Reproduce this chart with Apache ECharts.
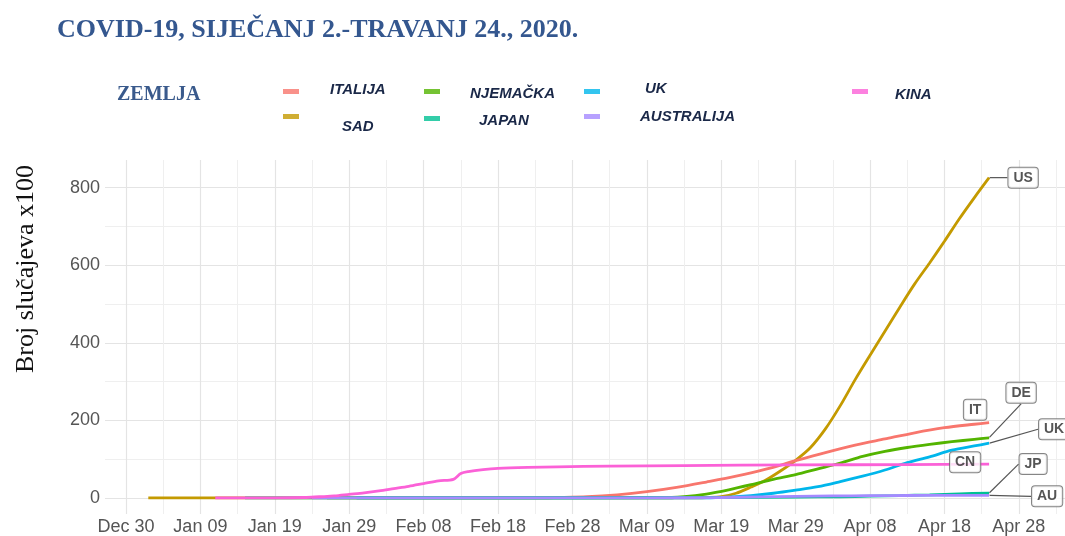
<!DOCTYPE html>
<html>
<head>
<meta charset="utf-8">
<script src="https://cdn.jsdelivr.net/npm/echarts@6/dist/echarts.min.js"></script>
<style>
html,body{margin:0;padding:0;background:#fff;}
#chart{width:1065px;height:536px;}
</style>
</head>
<body>
<div id="chart"></div>
<script>
// ---- data (days counted from 2019-12-30, values in thousands of cases) ----
const xTickDays = [0, 10, 20, 30, 40, 50, 60, 70, 80, 90, 100, 110, 120];
const xTickLabels = ['Dec 30', 'Jan 09', 'Jan 19', 'Jan 29', 'Feb 08', 'Feb 18', 'Feb 28', 'Mar 09', 'Mar 19', 'Mar 29', 'Apr 08', 'Apr 18', 'Apr 28'];
const xMinorDays = [5, 15, 25, 35, 45, 55, 65, 75, 85, 95, 105, 115, 125];
const yTicks = [0, 200, 400, 600, 800];
const yMinorTicks = [100, 300, 500, 700];

const usDays = [3, 10, 20, 40, 60, 76, 78, 80, 82, 84, 86, 88, 90, 92, 94, 96, 98, 100, 102, 104, 106, 108, 110, 112, 114, 116];
const usVals = [0, 0, 0, 0, 0, 0, 1, 3, 12, 28, 46, 70, 97, 130, 178, 238, 305, 368, 430, 492, 552, 606, 662, 720, 774, 826];

const itDays = [31, 50, 55, 58, 62, 66, 70, 74, 78, 82, 86, 90, 94, 98, 102, 106, 110, 114, 116];
const itVals = [0, 0, 0, 1, 3, 8, 16, 27, 41, 56, 74, 96, 117, 136, 152, 168, 181, 190, 194];

const deDays = [27, 50, 72, 75, 78, 81, 84, 87, 90, 93, 96, 99, 102, 105, 108, 111, 114, 116];
const deVals = [0, 0, 0, 3, 10, 21, 34, 48, 60, 75, 90, 107, 120, 130, 138, 145, 151, 155];

const ukDays = [31, 50, 78, 81, 84, 87, 90, 93, 96, 99, 102, 105, 108, 111, 114, 116];
const ukVals = [0, 0, 0, 2, 6, 12, 20, 29, 42, 56, 72, 91, 106, 123, 134, 141];

const jpDays = [16, 50, 70, 80, 90, 96, 100, 104, 108, 112, 116];
const jpVals = [0, 0.2, 0.5, 1, 2, 3, 4.5, 6, 8, 10.5, 12.5];

const auDays = [25, 50, 70, 80, 85, 90, 95, 100, 105, 110, 116];
const auVals = [0, 0, 0.1, 1, 2.5, 4, 5, 5.8, 6.2, 6.5, 6.7];

const cnDays = [12, 20, 24, 26, 28, 30, 32, 34, 36, 38, 40, 42, 44, 45, 46, 48, 50, 54, 58, 65, 75, 90, 105, 116];
const cnVals = [0, 0, 1, 3, 5, 9, 13, 18, 24, 30, 37, 44, 48, 63, 68, 73, 76, 78.5, 80, 82, 83.5, 85, 86, 87];

const seriesNames = ['SAD', 'ITALIJA', 'NJEMAČKA', 'UK', 'JAPAN', 'AUSTRALIJA', 'KINA'];
const endCodes = ['US', 'IT', 'DE', 'UK', 'JP', 'AU', 'CN'];

// ---- styling ----
const colors = {
  'SAD': '#C49A00', 'ITALIJA': '#F8766D', 'NJEMAČKA': '#53B400', 'UK': '#00B6EB',
  'JAPAN': '#00C094', 'AUSTRALIJA': '#A58AFF', 'KINA': '#FB61D7'
};
const seriesData = {
  'SAD': [usDays, usVals], 'ITALIJA': [itDays, itVals], 'NJEMAČKA': [deDays, deVals],
  'UK': [ukDays, ukVals], 'JAPAN': [jpDays, jpVals], 'AUSTRALIJA': [auDays, auVals], 'KINA': [cnDays, cnVals]
};
// label offsets (px) from each line end, and whether a leader segment is drawn
const labelStyle = {
  'US': {dx: 34, dy: 0, line: true},
  'IT': {dx: -14, dy: -13, line: false},
  'DE': {dx: 32, dy: -45, line: true},
  'UK': {dx: 65, dy: -14, line: true},
  'JP': {dx: 44, dy: -29, line: true},
  'AU': {dx: 58, dy: 1, line: true},
  'CN': {dx: -24, dy: -2, line: false}
};
// legend placement: icon left, icon center y, text left, text center y
const legendPlace = {
  'ITALIJA': [283, 93, 330, 91],
  'SAD': [283, 118, 342, 128],
  'NJEMAČKA': [424, 93, 470, 95],
  'JAPAN': [424, 120, 479, 122],
  'UK': [584, 93, 645, 90],
  'AUSTRALIJA': [584, 118, 640, 118],
  'KINA': [852, 93, 895, 96]
};

function pairs(days, vals) { return days.map((d, i) => [d, vals[i]]); }

const legendColor = '#1a2848';
const iconW = 16, iconH = 5, textLH = 18;
const legends = Object.keys(legendPlace).map(name => {
  const p = legendPlace[name];
  const pl = p[2] - p[0] - iconW - 5;
  const dy = p[3] - p[1];
  const pt = dy > 0 ? 2 * dy : 0;
  const pb = dy < 0 ? -2 * dy : 0;
  return {
    data: [{name: name, icon: 'rect'}],
    left: p[0],
    top: p[1] - (textLH + pt + pb) / 2,
    padding: 0,
    itemWidth: iconW,
    itemHeight: iconH,
    selectedMode: false,
    itemStyle: {opacity: 0.8},
    formatter: '{t|' + name + '}',
    textStyle: {
      rich: {
        t: {
          fontFamily: 'Liberation Sans, Arial, sans-serif',
          fontStyle: 'italic', fontWeight: 'bold', fontSize: 15,
          color: legendColor, lineHeight: textLH,
          padding: [pt, 0, pb, pl]
        }
      }
    }
  };
});

const lineSeries = seriesNames.map(name => ({
  name: name,
  type: 'line',
  xAxisIndex: 0, yAxisIndex: 0,
  data: pairs(seriesData[name][0], seriesData[name][1]),
  showSymbol: false,
  symbol: 'none',
  smooth: 0.3,
  lineStyle: {width: 2.8, color: colors[name]},
  itemStyle: {color: colors[name]},
  emphasis: {disabled: true},
  silent: true
}));

const labelPoints = seriesNames.map((name, i) => {
  const d = seriesData[name][0], v = seriesData[name][1];
  const code = endCodes[i];
  return {
    name: code,
    value: [d[d.length - 1], v[v.length - 1]],
    labelLine: {show: labelStyle[code].line}
  };
});

const labelSeries = {
  type: 'scatter',
  xAxisIndex: 0, yAxisIndex: 0,
  data: labelPoints,
  symbolSize: 1,
  itemStyle: {color: 'rgba(0,0,0,0)'},
  silent: true,
  z: 10,
  label: {
    show: true,
    position: 'inside',
    formatter: '{b}',
    fontFamily: 'Liberation Sans, Arial, sans-serif',
    fontWeight: 'bold',
    fontSize: 14,
    color: '#2a2a2a',
    backgroundColor: '#fff',
    borderColor: '#666',
    borderWidth: 1,
    borderRadius: 3,
    padding: [3, 5, 2, 5],
    lineHeight: 15
  },
  labelLine: {show: true, lineStyle: {color: '#555', width: 1.2}},
  labelLayout: function (p) {
    const s = labelStyle[labelPoints[p.dataIndex].name];
    return {dx: s.dx, dy: s.dy};
  }
};

const axisText = {fontFamily: 'Liberation Sans, Arial, sans-serif', fontSize: 18, color: '#555'};

const option = {
  animation: false,
  backgroundColor: '#fff',
  title: [
    {
      text: 'COVID-19, SIJEČANJ 2.-TRAVANJ 24., 2020.',
      left: 57, top: 15, padding: 0,
      textStyle: {fontFamily: 'Liberation Serif, Times New Roman, serif', fontWeight: 'bold', fontSize: 26, lineHeight: 30, color: '#34578f'}
    },
    {
      text: 'ZEMLJA',
      left: 117, top: 83, padding: 0,
      textStyle: {fontFamily: 'Liberation Serif, Times New Roman, serif', fontWeight: 'bold', fontSize: 20, lineHeight: 24, color: '#3a5a8c'}
    }
  ],
  legend: legends,
  graphic: [{
    type: 'text',
    x: 26, y: 269,
    rotation: Math.PI / 2,
    style: {
      text: 'Broj slučajeva x100',
      font: '26px "Liberation Serif", "Times New Roman", serif',
      fill: '#111',
      align: 'center', verticalAlign: 'middle',
      textAlign: 'center', textVerticalAlign: 'middle'
    }
  }],
  grid: {left: 105, right: 0, top: 160, bottom: 22, containLabel: false},
  xAxis: [
    {
      type: 'value', min: -2.82, max: 126.2,
      axisLine: {show: false}, axisTick: {show: false, customValues: xTickDays},
      axisLabel: Object.assign({customValues: xTickDays, margin: 4, formatter: v => xTickLabels[xTickDays.indexOf(Math.round(v))]}, axisText),
      splitLine: {show: true, lineStyle: {color: '#e4e4e4', width: 1.2}}
    },
    {
      type: 'value', min: -2.82, max: 126.2, position: 'top',
      axisLine: {show: false}, axisTick: {show: false, customValues: xMinorDays},
      axisLabel: {show: false, customValues: xMinorDays},
      splitLine: {show: true, lineStyle: {color: '#efefef', width: 1}}
    }
  ],
  yAxis: [
    {
      type: 'value', min: -41.5, max: 871.5,
      axisLine: {show: false}, axisTick: {show: false, customValues: yTicks},
      axisLabel: Object.assign({customValues: yTicks, margin: 5}, axisText),
      splitLine: {show: true, lineStyle: {color: '#e4e4e4', width: 1.2}}
    },
    {
      type: 'value', min: -41.5, max: 871.5, position: 'right',
      axisLine: {show: false}, axisTick: {show: false, customValues: yMinorTicks},
      axisLabel: {show: false, customValues: yMinorTicks},
      splitLine: {show: true, lineStyle: {color: '#efefef', width: 1}}
    }
  ],
  series: lineSeries.concat([labelSeries])
};

const chart = echarts.init(document.getElementById('chart'), null, {renderer: 'canvas'});
chart.setOption(option);
</script>
</body>
</html>
